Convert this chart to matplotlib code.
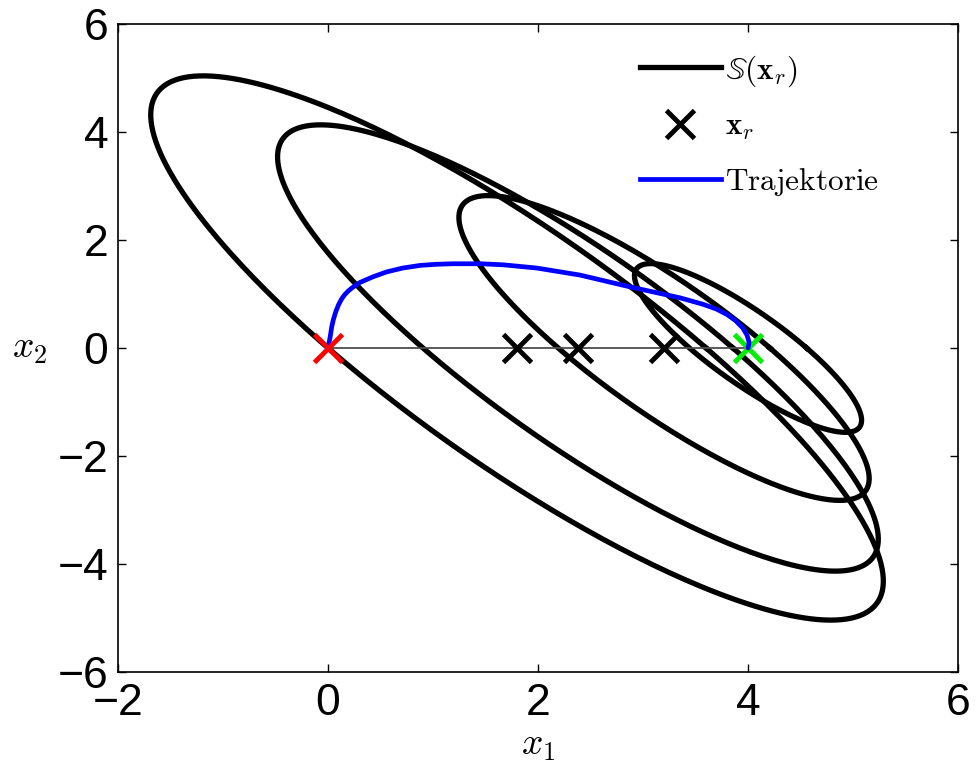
import numpy as np
import matplotlib.pyplot as plt
from matplotlib.lines import Line2D

plt.rcParams['font.family'] = ['Liberation Sans', 'DejaVu Sans']
plt.rcParams['mathtext.fontset'] = 'cm'

# reference states and the scaling of their invariant sets
x_ref = [1.8, 2.38, 3.2, 4.0]
set_scale = [1.0, 0.82, 0.56, 0.31]
# shape matrix of the ellipsoidal sets  d' P d <= scale^2
P = np.array([[0.3086, 0.183],
              [0.183, 0.1479]])

# closed-loop trajectory from (0,0) to (4,0)
traj_x = [0.0, 0.01, 0.02, 0.035, 0.05, 0.075, 0.10, 0.13, 0.16, 0.195, 0.23, 0.30,
          0.43, 0.56, 0.71, 0.88, 1.03, 1.19, 1.45, 1.67, 1.99, 2.40, 2.88, 3.35,
          3.57, 3.70, 3.80, 3.88, 3.95, 3.99, 4.01, 4.0]
traj_y = [0.0, 0.10, 0.20, 0.39, 0.52, 0.68, 0.80, 0.91, 0.99, 1.06, 1.115, 1.21,
          1.32, 1.41, 1.48, 1.53, 1.55, 1.56, 1.56, 1.54, 1.48, 1.35, 1.13, 0.93,
          0.81, 0.72, 0.62, 0.51, 0.37, 0.24, 0.11, 0.0]

x_start = [0.0, 0.0]
x_end = [4.0, 0.0]

fig = plt.figure(figsize=(9.77, 7.71), dpi=100)
ax = fig.add_axes([0.1208, 0.1284, 0.8598, 0.8405])

# ellipse boundaries
L = np.linalg.cholesky(P)
t = np.linspace(0, 2 * np.pi, 400)
circle = np.vstack([np.cos(t), np.sin(t)])
Linv_T = np.linalg.inv(L).T
for c, s in zip(x_ref, set_scale):
    d = s * Linv_T @ circle
    ax.plot(c + d[0], d[1], color='black', lw=3.8, zorder=2)

ax.plot([x_start[0], x_end[0]], [x_start[1], x_end[1]], color='0.3', lw=1.3, zorder=3)
ax.plot(x_ref[:3], [0] * 3, linestyle='none', marker='x', color='black',
        ms=20, mew=3.5, zorder=4)
ax.plot(x_end[0], x_end[1], marker='x', color='#00ee00', ms=20, mew=3.5, zorder=4)
ax.plot(traj_x, traj_y, color='blue', lw=3.4, zorder=5,
        solid_capstyle='round', solid_joinstyle='round')
ax.plot(x_start[0], x_start[1], marker='x', color='red', ms=20, mew=3.5, zorder=6)

ax.set_xlim(-2, 6)
ax.set_ylim(-6, 6)
ax.set_xticks([-2, 0, 2, 4, 6])
ax.set_yticks([-6, -4, -2, 0, 2, 4, 6])
ax.tick_params(direction='in', length=6, width=1, labelsize=32,
               top=True, right=True)
ax.tick_params(axis='x', pad=8)
ax.tick_params(axis='y', pad=7)
for sp in ax.spines.values():
    sp.set_linewidth(1.2)

ax.set_xlabel('$x_1$', fontsize=27, labelpad=2)
ax.set_ylabel('$x_2$', fontsize=27, rotation=0, labelpad=20, va='center')

handles = [
    Line2D([], [], color='black', lw=3.8),
    Line2D([], [], color='black', linestyle='none', marker='x', ms=20, mew=3.5),
    Line2D([], [], color='blue', lw=3.4),
]
labels = [r'$\mathbb{S}(\mathbf{x}_r)$', r'$\mathbf{x}_r$', r'$\mathrm{Trajektorie}$']
ax.legend(handles, labels, loc='upper left', bbox_to_anchor=(0.621, 0.955),
          frameon=False, fontsize=22.5, borderpad=0, borderaxespad=0,
          handlelength=2.6, handletextpad=0.12, labelspacing=0.75)

fig.savefig('out.png', dpi=100)
